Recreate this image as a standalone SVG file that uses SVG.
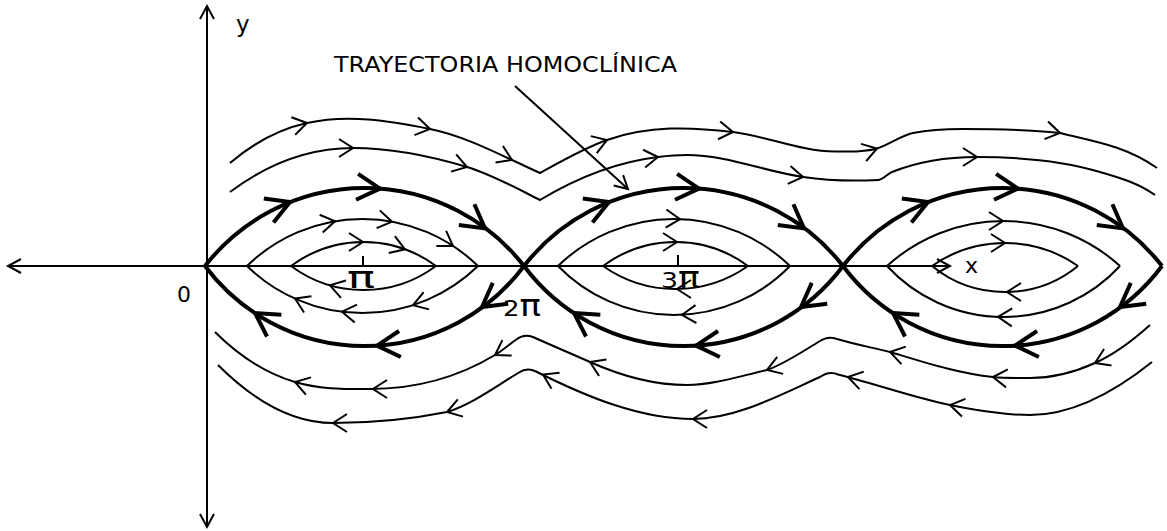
<svg xmlns="http://www.w3.org/2000/svg" width="1167" height="531" viewBox="0 0 1167 531">
<style>
.thick{fill:none;stroke:#000;stroke-width:4}
.thin{fill:none;stroke:#000;stroke-width:2}
.ax{fill:none;stroke:#000;stroke-width:2}
.at{fill:none;stroke:#000;stroke-width:0.5;marker-end:url(#mThick)}
.an{fill:none;stroke:#000;stroke-width:0.5;marker-end:url(#mThin)}
.axa{marker-end:url(#mAx)}
text{font-family:"DejaVu Sans","Liberation Sans",sans-serif;fill:#000}
</style>
<defs>
<marker id="mThick" markerUnits="userSpaceOnUse" viewBox="-30 -20 32 40" markerWidth="32" markerHeight="40" refX="0" refY="0" orient="auto" overflow="visible">
<path d="M-23,-13 L0,0 L-23,13" fill="none" stroke="#000" stroke-width="4"/>
</marker>
<marker id="mThin" markerUnits="userSpaceOnUse" viewBox="-20 -15 22 30" markerWidth="22" markerHeight="30" refX="0" refY="0" orient="auto" overflow="visible">
<path d="M-14,-9 L0,0 L-14,9" fill="none" stroke="#000" stroke-width="2"/>
</marker>
<marker id="mAx" markerUnits="userSpaceOnUse" viewBox="-20 -15 22 30" markerWidth="22" markerHeight="30" refX="0" refY="0" orient="auto" overflow="visible">
<path d="M-13,-7 L0,0 L-13,7" fill="none" stroke="#000" stroke-width="2"/>
</marker>
</defs>

<g id="axes">
<path class="ax axa" d="M207,266 L207,6"/>
<path class="ax axa" d="M207,266 L207,527"/>
<path class="ax axa" d="M207,266 L8,266"/>
<path class="ax axa" d="M207,266 L950,266"/>
<path class="ax" d="M363,256 L363,266 M678,255 L678,266"/>
</g>

<g id="separatrix">
<path class="thick" d="M205,266 A202.1,202.1 0 0 1 524,266 A202.1,202.1 0 0 1 843,266 A202.1,202.1 0 0 1 1162,266"/>
<path class="thick" d="M205,266 A199,199 0 0 0 524,266 A199,199 0 0 0 843,266 A199,199 0 0 0 1162,266"/>
</g>

<g id="eyes">
<path class="thin" d="M247,266 A165.4,165.4 0 0 1 478,266 M247,266 A165.4,165.4 0 0 0 478,266"/>
<path class="thin" d="M291,266 A121.5,121.5 0 0 1 436,266 M291,266 A121.5,121.5 0 0 0 436,266"/>
<path class="thin" d="M558,266 A166.6,166.6 0 0 1 790,266 M558,266 A161.8,161.8 0 0 0 790,266"/>
<path class="thin" d="M603,266 A121.5,121.5 0 0 1 748,266 M603,266 A125.8,125.8 0 0 0 748,266"/>
<path class="thin" d="M887,266 A173.3,173.3 0 0 1 1120,266 M887,266 A158.6,158.6 0 0 0 1120,266"/>
<path class="thin" d="M932,266 A127.3,127.3 0 0 1 1078,266 M932,266 A115.5,115.5 0 0 0 1078,266"/>
</g>

<g id="rotations">
<path class="thin" d="M230,163 C255.7,141.2 281.3,128.6 307,123 C348,114 389,120.8 430,129 C466.7,136.3 503.3,156.5 540,173 C562.3,160.7 584.7,147.8 607,140 C649,125.3 691,127 733,132 C767,136.1 801,151.5 835,151.5 C849,151.5 863,152.7 877,148.5 C889,144.9 901,135.4 913,133 C929.7,129.7 946.3,129 963,129 C995.3,129 1027.7,129.8 1060,133 C1092.3,141.1 1124.7,145.4 1157,168"/>
<path class="thin" d="M230,192 C271,161.25 312,148 353,148 C391,148 429,155.6 467,167 C491.3,174.3 515.7,187.8 540,200 C579.3,176.4 618.7,161.7 658,157 C667.7,155.8 677.3,155 687,155 C725.7,155 764.3,171.2 803,177 C828,180.75 853,181.25 878,180 C882.7,179.8 887.3,173.9 892,172 C920.3,160.7 948.7,157 977,157 C1018,157 1059,159.7 1100,172 C1118.3,177.5 1136.7,182.2 1155,195"/>
<path class="thin" d="M215,332 C241.7,358.7 268.3,374 295,382 C320,389.5 345,389 370,389 C411.7,389 453.3,380 495,355 C502.3,350.6 509.7,344.1 517,339 Q524,333.5 533,337 C552,345.6 571,353.5 590,362 C622.3,376.5 654.7,385 687,385 C713.7,385 740.3,376 767,370 C784.7,363.8 802.3,351.6 820,341 Q828,335.5 837,339 C854.7,344.3 872.3,347.6 890,352 C924.3,362.3 958.7,373.6 993,377 C1005.3,378.2 1017.7,378 1030,378 C1051.7,378 1073.3,372.8 1095,363 C1113.3,354.8 1131.7,341.5 1150,325"/>
<path class="thin" d="M218,365 C256.3,403.3 295,423 333,423 C371,423 409,419.6 447,412 C471,404.8 495,386.9 519,372.5 Q527,367 536,371.5 C588.3,397.7 640.7,419 693,419 C735.3,419 777.7,396 820,377 Q829,370.5 838,374.5 C875.3,383.8 912.7,397.5 950,405 C976.7,410.3 1003.3,415 1030,415 C1070.7,415 1111.3,394.6 1152,362"/>
</g>

<g id="connectors">
<path class="at" d="M289,202.4 L290,202"/>
<path class="at" d="M379,188.52 L380,188.6"/>
<path class="at" d="M484,227.65 L485,228.4"/>
<path class="at" d="M483,306.26 L482,307"/>
<path class="at" d="M378,345.53 L377,345.6"/>
<path class="at" d="M256,313.66 L255,313"/>
<path class="at" d="M608,202.4 L609,202"/>
<path class="at" d="M698,188.52 L699,188.6"/>
<path class="at" d="M803,227.65 L804,228.4"/>
<path class="at" d="M802,306.26 L801,307"/>
<path class="at" d="M697,345.53 L696,345.6"/>
<path class="at" d="M575,313.66 L574,313"/>
<path class="at" d="M927,202.4 L928,202"/>
<path class="at" d="M1017,188.52 L1018,188.6"/>
<path class="at" d="M1122,227.65 L1123,228.4"/>
<path class="at" d="M1121,306.26 L1120,307"/>
<path class="at" d="M1016,345.53 L1015,345.6"/>
<path class="at" d="M894,313.66 L893,313"/>
<path class="an" d="M334,221.47 L335,221.3"/>
<path class="an" d="M391,221.52 L392,221.7"/>
<path class="an" d="M452,245.35 L453,246"/>
<path class="an" d="M414,304.78 L413,305.1"/>
<path class="an" d="M343,311.83 L342,311.7"/>
<path class="an" d="M296,299.05 L295,298.6"/>
<path class="an" d="M362,242 L363,242"/>
<path class="an" d="M404,248.94 L405,249.3"/>
<path class="an" d="M331,285.59 L330,285.3"/>
<path class="an" d="M679,219.06 L680,219.1"/>
<path class="an" d="M683,314.75 L682,314.8"/>
<path class="an" d="M676,242 L677,242"/>
<path class="an" d="M678,289 L677,289"/>
<path class="an" d="M1002,221 L1003,221"/>
<path class="an" d="M999,316.93 L998,316.9"/>
<path class="an" d="M1004,243 L1005,243"/>
<path class="an" d="M1008,292 L1007,292"/>
<path class="an" d="M306,123.22 L307,123"/>
<path class="an" d="M429,128.8 L430,129"/>
<path class="an" d="M511,159.55 L512,160"/>
<path class="an" d="M606,140.35 L607,140"/>
<path class="an" d="M732,131.88 L733,132"/>
<path class="an" d="M876,148.8 L877,148.5"/>
<path class="an" d="M1059,132.8 L1060,133"/>
<path class="an" d="M352,148 L353,148"/>
<path class="an" d="M466,166.7 L467,167"/>
<path class="an" d="M657,157.12 L658,157"/>
<path class="an" d="M802,176.85 L803,177"/>
<path class="an" d="M976,157 L977,157"/>
<path class="an" d="M496,354.4 L495,355"/>
<path class="an" d="M374,389 L373,389"/>
<path class="an" d="M296,382.3 L295,382"/>
<path class="an" d="M591,362.45 L590,362"/>
<path class="an" d="M768,369.65 L767,370"/>
<path class="an" d="M891,352.25 L890,352"/>
<path class="an" d="M994,377.1 L993,377"/>
<path class="an" d="M1096,362.55 L1095,363"/>
<path class="an" d="M448,411.7 L447,412"/>
<path class="an" d="M334,423 L333,423"/>
<path class="an" d="M544,375 L543,374.5"/>
<path class="an" d="M694,419 L693,419"/>
<path class="an" d="M849,377.25 L848,377"/>
<path class="an" d="M951,405.2 L950,405"/>
<path class="ax axa" d="M515,86 L628,189"/>
</g>

<g id="labels">
<text x="334" y="72" font-size="21" textLength="343" lengthAdjust="spacingAndGlyphs">TRAYECTORIA HOMOCLÍNICA</text>
<text x="236" y="32" font-size="23">y</text>
<text x="965" y="273" font-size="22">x</text>
<text x="177" y="302" font-size="22">0</text>
<text x="347" y="288" font-size="30" textLength="28" lengthAdjust="spacingAndGlyphs">π</text>
<text x="503" y="316" font-size="22" textLength="38" lengthAdjust="spacingAndGlyphs">2<tspan font-size="30">π</tspan></text>
<text x="661" y="288" font-size="22" textLength="39" lengthAdjust="spacingAndGlyphs">3<tspan font-size="30">π</tspan></text>
</g>
</svg>
